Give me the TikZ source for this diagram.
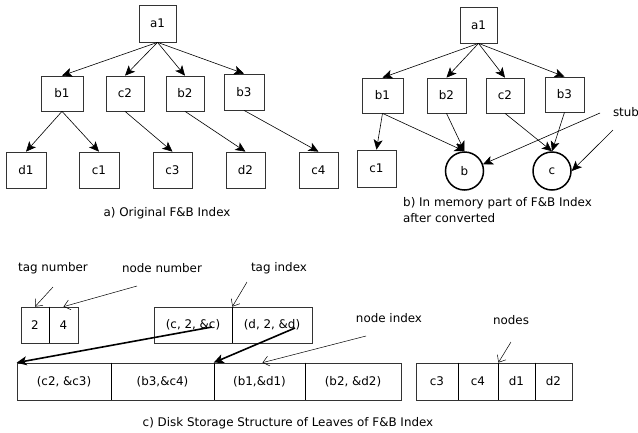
\documentclass[tikz,border=0pt]{standalone}
\usepackage{fontspec}
\setmainfont{DejaVu Sans}
\usetikzlibrary{arrows.meta}
\begin{document}
\begin{tikzpicture}[x=1pt,y=-1pt,
  font=\fontsize{11.9}{16}\selectfont,
  tbox/.style={draw=black!80, line width=0.7pt, inner sep=0pt, minimum width=38pt, minimum height=36pt},
  cell/.style={draw=black!80, line width=0.7pt, inner sep=0pt, minimum height=37pt},
  stubc/.style={draw, circle, line width=1.5pt, inner sep=0pt, minimum size=38pt},
  edge/.style={line width=0.6pt, -{Stealth[length=10pt,width=9pt,inset=2.5pt]}},
  heavy/.style={line width=1.6pt, -{Stealth[length=10pt,width=9pt,inset=2.5pt]}},
  note/.style={line width=0.5pt, -{Straight Barb[length=6pt,width=10pt]}},
  sep/.style={line width=1.4pt}
]
\useasboundingbox (0,0) rectangle (638,432);

% ---------- a) original index ----------
\node[tbox, minimum width=37pt, minimum height=37pt] (a1) at (157.5,23.5) {a1};
\node[tbox, minimum width=42pt, minimum height=35pt] (b1) at (62,93.5) {b1};
\node[tbox, minimum height=35pt] (c2) at (125,93.5) {c2};
\node[tbox, minimum height=35pt] (b2) at (185,93.5) {b2};
\node[tbox, minimum width=40pt, minimum height=36pt] (b3) at (244,92) {b3};
\node[tbox, minimum width=40pt] (d1) at (26,170) {d1};
\node[tbox, minimum width=40pt] (c1) at (99,170) {c1};
\node[tbox, minimum width=39pt] (c3) at (172.5,170) {c3};
\node[tbox, minimum width=39pt] (d2) at (245.5,170) {d2};
\node[tbox, minimum width=39pt] (c4) at (318.5,170) {c4};
\node (capa) at (167,213) {a) Original F\&B Index};

\foreach \t in {b1,c2,b2,b3} \draw[edge] (a1.south) -- (\t.north);
\draw[edge] (b1.south) -- (d1.north);
\draw[edge] (b1.south) -- (c1.north);
\draw[edge] (c2.south) -- (c3.north);
\draw[edge] (b2.south) -- (d2.north);
\draw[edge] (b3.south) -- (c4.north);

% ---------- b) in-memory part ----------
\node[tbox, minimum width=37pt] (ma1) at (478.5,25) {a1};
\node[tbox, minimum width=41pt, minimum height=35pt] (mb1) at (382.5,95.5) {b1};
\node[tbox, minimum width=39pt, minimum height=35pt] (mb2) at (446.5,95.5) {b2};
\node[tbox, minimum height=35pt] (mc2) at (505,95.5) {c2};
\node[tbox, minimum width=39pt, minimum height=35pt] (mb3) at (564.5,94.5) {b3};
\node[tbox, minimum width=39pt, minimum height=37pt] (mc1) at (376.5,168.5) {c1};
\node[stubc] (sb) at (464.5,171) {b};
\node[stubc] (sc) at (552,171) {c};
\node (stub) at (626,112) {stub};
\coordinate (stubA) at (600,113);
\coordinate (stubB) at (613,130);
\node[align=left, anchor=north west, inner sep=0pt] (capb) at (403,197)
  {b) In memory part of F\&B Index\\after converted};

\foreach \t in {mb1,mb2,mc2,mb3} \draw[edge] (ma1.south) -- (\t.north);
\draw[edge] (mb1.south) -- (mc1.north);
\draw[edge] (mb1.south) -- (sb.north);
\draw[edge] (mb2.south) -- (sb.north);
\draw[edge] (mc2.south) -- (sc.north);
\draw[edge] (mb3.south) -- (sc.north);
\draw[edge] (stubA) -- (sb.20);
\draw[edge] (stubB) -- (sc.east);

% ---------- c) disk storage ----------
\node (tagnum) at (53,268) {tag number};
\node (nodenum) at (162,268) {node number};
\node (tagidx) at (279,268) {tag index};
\node (nodeidx) at (389,318) {node index};
\node (nodeslbl) at (511,320) {nodes};

% header cells
\node[cell, minimum width=28pt, minimum height=36pt] (h2) at (35,325) {2};
\node[cell, minimum width=29pt, minimum height=36pt] (h4) at (63.5,325) {4};
\node[cell, minimum width=78pt, minimum height=36pt] (ti1) at (193,325) {(c, 2, \&c)};
\node[cell, minimum width=80pt, minimum height=36pt] (ti2) at (272,325) {(d, 2, \&d)};
\draw[sep] (h2.north east) -- (h2.south east);
\draw[sep] (ti1.north east) -- (ti1.south east);

% node index cells
\node[cell, minimum width=94pt] (n1) at (64,381.5) {(c2, \&c3)};
\node[cell, minimum width=103pt] (n2) at (162.5,381.5) {(b3,\&c4)};
\node[cell, minimum width=91pt] (n3) at (259.5,381.5) {(b1,\&d1)};
\node[cell, minimum width=96pt] (n4) at (353,381.5) {(b2, \&d2)};
\draw[sep] (n1.north east) -- (n1.south east);
\draw[sep] (n2.north east) -- (n2.south east);
\draw[sep] (n3.north east) -- (n3.south east);

% node cells
\node[cell, minimum width=42pt] (k1) at (437,381.5) {c3};
\node[cell, minimum width=40pt] (k2) at (478,381.5) {c4};
\node[cell, minimum width=37pt] (k3) at (516.5,381.5) {d1};
\node[cell, minimum width=37pt] (k4) at (553.5,381.5) {d2};
\draw[sep] (k1.north east) -- (k1.south east);
\draw[sep] (k2.north east) -- (k2.south east);
\draw[sep] (k3.north east) -- (k3.south east);

\node (capc) at (288,423) {c) Disk Storage Structure of Leaves of F\&B Index};

% annotation arrows
\coordinate (tnA) at (53,287);
\coordinate (nnA) at (137,286);
\coordinate (tiA) at (247,282);
\coordinate (niA) at (366,336);
\coordinate (ndA) at (511,342);
\draw[note] (tnA) -- (h2.north);
\draw[note] (nnA) -- (h4.north);
\draw[note] (tiA) -- (ti1.north east);
\draw[note] (niA) -- ([xshift=3pt]n3.north);
\draw[note] (ndA) -- (k2.north east);

% pointers from the tag index into the node index
\coordinate (pc) at (212,327);
\coordinate (pd) at (295,328);
\draw[heavy] (pc) -- (n1.north west);
\draw[heavy] (pd) -- (n3.north west);
\end{tikzpicture}
\end{document}
